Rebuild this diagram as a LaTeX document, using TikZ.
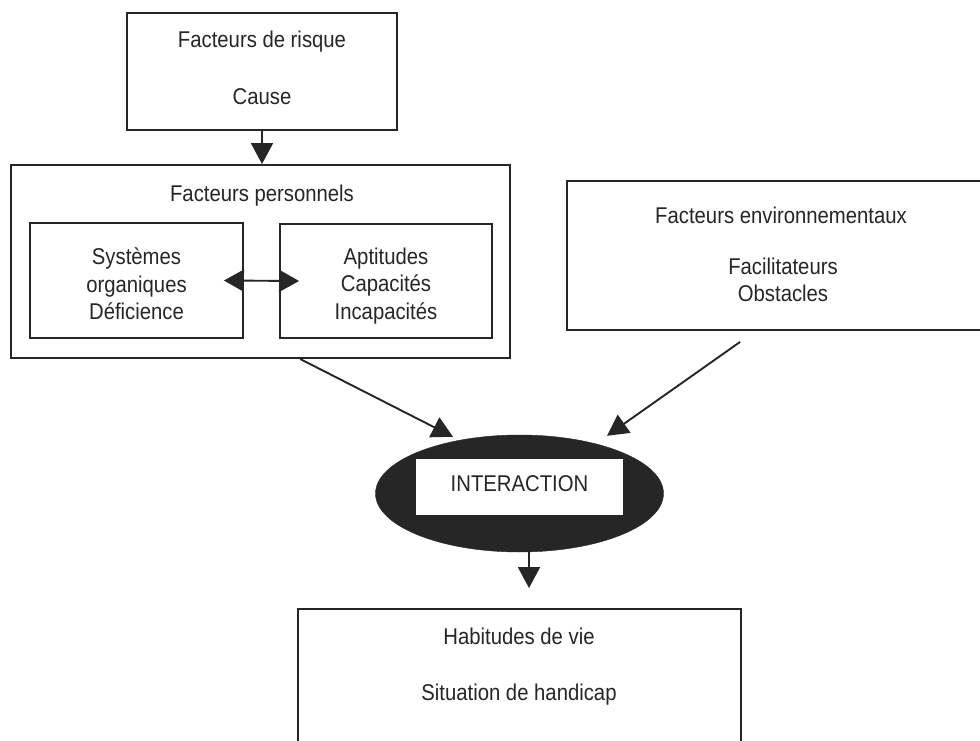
\documentclass[tikz,border=0pt]{standalone}
\usepackage{fontspec}
\setmainfont{Liberation Sans}[FakeStretch=0.89]
\usetikzlibrary{arrows.meta,shapes.geometric,calc}
\definecolor{ink}{HTML}{262626}
\begin{document}
\begin{tikzpicture}[x=1pt,y=-1pt,
  box/.style={draw=ink, line width=1.9pt, rectangle, inner sep=0pt},
  lbl/.style={align=center, inner sep=0pt, text=ink, font=\fontsize{22.8}{27.5}\selectfont},
  arr/.style={-{Triangle[length=21pt,width=22pt]}, line width=1.9pt, draw=ink, fill=ink},
  dbl/.style={{Triangle[length=20pt,width=22pt]}-{Triangle[length=20pt,width=22pt]}, line width=1.9pt, draw=ink, fill=ink}]
\useasboundingbox (0,0) rectangle (980,741);
\clip (0,0) rectangle (980,741);
\fill[white] (0,0) rectangle (980,741);

% boxes
\node[box, minimum width=270pt, minimum height=117pt] (risk) at (262,71.5) {};
\node[box, minimum width=499pt, minimum height=193pt] (pers) at (260.5,261.5) {};
\node[box, minimum width=213pt, minimum height=115pt] (sys) at (136.5,280.5) {};
\node[box, minimum width=212pt, minimum height=114pt] (apt) at (386,281) {};
\node[box, minimum width=428pt, minimum height=149pt] (env) at (781,255.5) {};
\node[ellipse, fill=ink, draw=ink, minimum width=288pt, minimum height=117pt, inner sep=0pt] (ell) at (519.5,493.5) {};
\node[box, fill=white, minimum width=209pt, minimum height=58pt] (inter) at (519.5,487) {};
\node[box, minimum width=443pt, minimum height=162pt] (hab) at (519.5,690) {};

% texts
\node[lbl, anchor=base] (t1) at (262,48) {Facteurs de risque};
\node[lbl, anchor=base] (t2) at (262,105) {Cause};
\node[lbl, anchor=base] (t3) at (262,201) {Facteurs personnels};
\node[lbl] (t4) at (136.5,284) {Systèmes\\organiques\\Déficience};
\node[lbl] (t5) at (386,286) {Aptitudes\\Capacités\\Incapacités};
\node[lbl, anchor=base] (t6) at (781,223) {Facteurs environnementaux};
\node[lbl] (t7) at (783,280) {Facilitateurs\\Obstacles};
\node[lbl, anchor=base] (t8) at (519.5,491) {INTERACTION};
\node[lbl, anchor=base] (t9) at (519,644) {Habitudes de vie};
\node[lbl, anchor=base] (t10) at (519,700) {Situation de handicap};

% connectors
\draw[arr] (risk.south) -- (risk.south |- pers.north);
\draw[dbl] ([xshift=-20pt]sys.east) -- ([xshift=20pt]apt.west);
\draw[arr] ($(pers.south west)!0.579!(pers.south east)$) -- ([xshift=-66.5pt,yshift=-2pt]ell.north);
\draw[arr] ([xshift=174pt,yshift=-11pt]env.south west) -- ([xshift=87.5pt,yshift=-1pt]ell.north);
\draw[arr] ([xshift=9.5pt]ell.south) -- ([xshift=9.5pt,yshift=20pt]hab.north);
\end{tikzpicture}
\end{document}
